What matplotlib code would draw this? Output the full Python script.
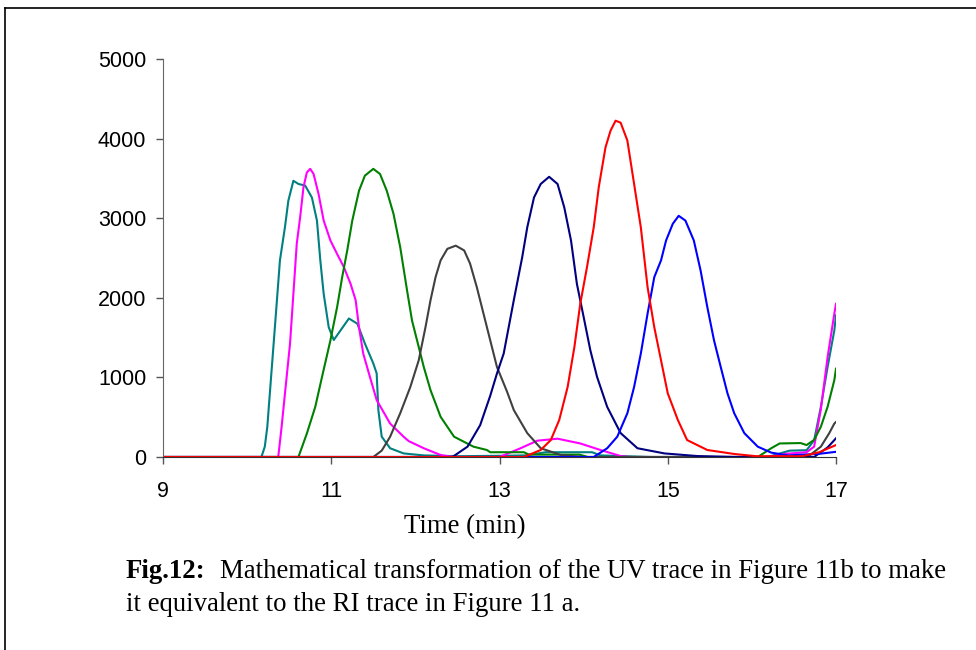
import matplotlib
matplotlib.use("Agg")
import matplotlib.pyplot as plt
from matplotlib.lines import Line2D
from matplotlib.ticker import MultipleLocator

# time (min) / signal for each trace
teal_t = [9.0, 10.17, 10.21, 10.24, 10.27, 10.33, 10.39, 10.45, 10.49, 10.55, 10.61, 10.69, 10.77,
          10.83, 10.87, 10.91, 10.97, 11.03, 11.11, 11.21, 11.31, 11.40, 11.50, 11.54, 11.56, 11.60,
          11.70, 11.86, 12.1, 12.5, 13.0, 13.3, 13.55, 14.1, 14.2, 14.5, 14.8, 16.19, 16.35, 16.45,
          16.65, 16.74, 16.82, 16.90, 16.98, 17.0]
teal_v = [0, 0, 130, 380, 800, 1630, 2470, 2890, 3220, 3470, 3430, 3410, 3260,
          2970, 2470, 2050, 1630, 1470, 1590, 1740, 1675, 1425, 1175, 1050, 590, 255,
          110, 45, 20, 10, 15, 20, 60, 60, 20, 10, 0, 0, 50, 80,
          85, 210, 630, 1130, 1590, 1780]

mag_t = [9.0, 10.37, 10.41, 10.45, 10.51, 10.55, 10.59, 10.63, 10.67, 10.71, 10.75, 10.79, 10.85,
         10.91, 10.99, 11.07, 11.15, 11.23, 11.29, 11.33, 11.38, 11.46, 11.54, 11.70, 11.86, 11.92,
         12.10, 12.30, 12.45, 13.0, 13.25, 13.45, 13.69, 13.96, 14.2, 14.44, 14.55, 16.2, 16.4,
         16.65, 16.74, 16.82, 16.90, 16.98, 17.0]
mag_v = [0, 0, 380, 800, 1425, 2050, 2680, 3010, 3390, 3575, 3620, 3555, 3300,
         2970, 2720, 2550, 2385, 2175, 1970, 1630, 1300, 1005, 715, 420, 255, 200,
         110, 25, 0, 0, 110, 205, 230, 170, 88, 12, 0, 0, 40,
         60, 130, 600, 1255, 1800, 1925]

green_t = [9.0, 10.61, 10.71, 10.81, 10.89, 10.99, 11.07, 11.13, 11.19, 11.25, 11.33, 11.40, 11.50,
           11.58, 11.66, 11.74, 11.82, 11.90, 11.96, 12.02, 12.10, 12.18, 12.30, 12.46, 12.69, 12.85,
           12.89, 13.29, 13.35, 13.95, 14.05, 16.07, 16.23, 16.33, 16.58, 16.65, 16.74, 16.82, 16.90,
           16.98, 17.0]
green_v = [0, 0, 295, 630, 1005, 1465, 1885, 2260, 2595, 2970, 3345, 3535, 3620,
           3555, 3345, 3055, 2635, 2100, 1715, 1465, 1130, 840, 505, 255, 130, 88,
           60, 60, 30, 30, 0, 0, 110, 170, 175, 150, 215, 380, 630,
           965, 1110]

gray_t = [9.0, 11.50, 11.60, 11.70, 11.82, 11.94, 12.04, 12.12, 12.18, 12.24, 12.30, 12.38, 12.48,
          12.58, 12.65, 12.73, 12.81, 12.89, 12.97, 13.09, 13.17, 13.33, 13.49, 13.73, 14.0, 16.66,
          16.82, 16.92, 16.98, 17.0]
gray_v = [0, 0, 80, 255, 550, 880, 1215, 1630, 1970, 2260, 2470, 2615, 2655,
          2595, 2430, 2135, 1800, 1465, 1130, 820, 590, 300, 110, 25, 0, 0,
          130, 300, 420, 440]

navy_t = [9.0, 12.44, 12.62, 12.77, 12.89, 12.97, 13.05, 13.17, 13.27, 13.33, 13.41, 13.49, 13.59,
          13.69, 13.77, 13.85, 13.92, 14.00, 14.08, 14.16, 14.28, 14.44, 14.64, 14.96, 15.35, 15.8,
          16.74, 16.9, 17.0]
navy_v = [0, 0, 130, 400, 770, 1050, 1300, 1970, 2510, 2885, 3260, 3430, 3520,
          3430, 3135, 2720, 2175, 1760, 1340, 1005, 630, 300, 110, 45, 12, 0,
          0, 120, 235]

blue_t = [9.0, 14.12, 14.28, 14.40, 14.52, 14.60, 14.68, 14.76, 14.84, 14.92, 14.98, 15.06, 15.13,
          15.21, 15.31, 15.39, 15.47, 15.55, 15.63, 15.71, 15.79, 15.91, 16.07, 16.23, 16.43, 16.8,
          17.0]
blue_v = [0, 0, 110, 255, 550, 880, 1300, 1800, 2260, 2470, 2720, 2930, 3030,
          2970, 2720, 2345, 1885, 1465, 1130, 800, 550, 300, 130, 55, 20, 40,
          65]

red_t = [9.0, 13.29, 13.49, 13.61, 13.71, 13.81, 13.89, 13.96, 14.04, 14.12, 14.18, 14.26, 14.32,
         14.38, 14.44, 14.52, 14.60, 14.68, 14.76, 14.84, 14.92, 15.00, 15.12, 15.23, 15.47, 15.79,
         16.05, 16.6, 16.8, 17.0]
red_v = [0, 0, 88, 213, 465, 880, 1380, 1925, 2385, 2885, 3390, 3890, 4100,
         4225, 4200, 3975, 3430, 2885, 2135, 1630, 1215, 800, 465, 213, 88, 38,
         10, 10, 60, 150]

x_ticks = [9, 11, 13, 15, 17]

fig = plt.figure(figsize=(9.76, 6.5), dpi=100)
ax = fig.add_axes([163/976, 1-457/650, 673/976, 398/650])

lw = 1.5
ax.plot(teal_t, teal_v, color="#008080", lw=lw)
ax.plot(mag_t, mag_v, color="#FF00FF", lw=lw)
ax.plot(green_t, green_v, color="#008000", lw=lw)
ax.plot(gray_t, gray_v, color="#404040", lw=lw)
ax.plot(navy_t, navy_v, color="#000080", lw=lw)
ax.plot(blue_t, blue_v, color="#0000FF", lw=lw)
ax.plot(red_t, red_v, color="#FF0000", lw=lw)

ax.set_xlim(9, 17)
ax.set_ylim(0, 5000)
ax.set_xticks(x_ticks)
ax.yaxis.set_major_locator(MultipleLocator(1000))
ax.spines['top'].set_visible(False)
ax.spines['right'].set_visible(False)
ax.spines['left'].set_color("#666666")
ax.spines['bottom'].set_color("#333333")
ax.tick_params(direction='out', length=5, width=1, color="#555555", labelsize=15.5,
               labelfontfamily='Liberation Sans')
ax.tick_params(axis='x', pad=12)
ax.tick_params(axis='y', pad=7)
ax.patch.set_alpha(0)

fig.text(465/976, 1-533/650, "Time (min)", ha='center', va='baseline',
         family='Liberation Serif', fontsize=19.3)
fig.text(126/976, 1-578/650, "Fig.12:", ha='left', va='baseline',
         family='Liberation Serif', fontsize=19.3, fontweight='bold')
fig.text(220/976, 1-578/650, "Mathematical transformation of the UV trace in Figure 11b to make",
         ha='left', va='baseline', family='Liberation Serif', fontsize=19.3)
fig.text(126/976, 1-611/650, "it equivalent to the RI trace in Figure 11 a.",
         ha='left', va='baseline', family='Liberation Serif', fontsize=19.3)

# frame round the whole picture (only left and top edges show)
fig.add_artist(Line2D([5/976, 5/976], [0, 1-8/650], transform=fig.transFigure, color='black', lw=1.2))
fig.add_artist(Line2D([5/976, 1], [1-8/650, 1-8/650], transform=fig.transFigure, color='black', lw=1.2))

fig.savefig("out.png", dpi=100)
